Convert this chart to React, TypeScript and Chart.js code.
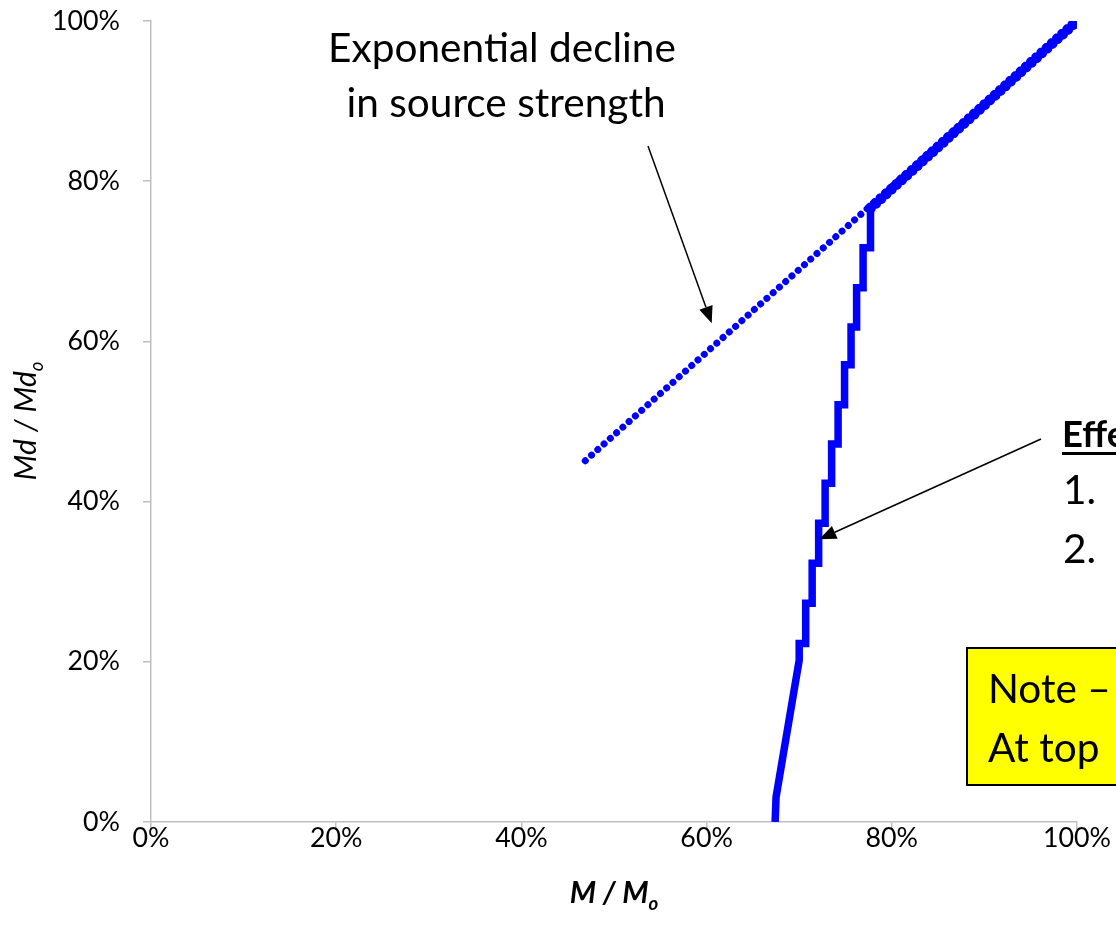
import React, { useEffect, useRef } from "react";
import { Chart, registerables } from "chart.js";

Chart.register(...registerables);

// ---- data ----
const xTickValues = [0, 20, 40, 60, 80, 100];
const yTickValues = [0, 20, 40, 60, 80, 100];
const tickLabels = ["0%", "20%", "40%", "60%", "80%", "100%"];

// Exponential decline in source strength (round-dot line), M/Mo (%) vs Md/Mdo (%)
const declineX = [46.9, 100];
const declineY = [45.1, 100];

// Stepped series (solid line), M/Mo (%)
const stepX = [
  67.4, 67.5, 70.0, 70.0, 70.7, 70.7, 71.4, 71.4, 72.1, 72.1, 72.8, 72.8, 73.5,
  73.5, 74.2, 74.2, 74.9, 74.9, 75.6, 75.6, 76.2, 76.2, 76.9, 76.9, 77.7, 77.7,
];
// Stepped series, Md/Mdo (%)
const stepY = [
  0, 3.1, 20.2, 22.3, 22.3, 27.3, 27.3, 32.3, 32.3, 37.3, 37.3, 42.3, 42.3,
  47.2, 47.2, 52.1, 52.1, 57.1, 57.1, 61.8, 61.8, 66.7, 66.7, 71.7, 71.7, 76.65,
];
// Upper part of the stepped series, drawn with markers
const upperX = [77.7, 100];
const upperY = [76.65, 100];

const FONT = "Lato";
const BLUE = "#0000FF";
const AXIS_GRAY = "#BFBFBF";

function fitSize(text: string, targetW: number, weight = "normal", style = "normal") {
  const c = document.createElement("canvas").getContext("2d")!;
  c.font = `${style} ${weight} 100px ${FONT}`;
  return (100 * targetW) / c.measureText(text).width;
}

function drawArrow(ctx: CanvasRenderingContext2D, x1: number, y1: number, x2: number, y2: number) {
  const ang = Math.atan2(y2 - y1, x2 - x1);
  const len = 17;
  const hw = 7;
  const bx = x2 - len * Math.cos(ang);
  const by = y2 - len * Math.sin(ang);
  ctx.strokeStyle = "#000";
  ctx.lineWidth = 1.5;
  ctx.beginPath();
  ctx.moveTo(x1, y1);
  ctx.lineTo(bx, by);
  ctx.stroke();
  ctx.fillStyle = "#000";
  ctx.beginPath();
  ctx.moveTo(x2, y2);
  ctx.lineTo(bx + hw * Math.sin(ang), by - hw * Math.cos(ang));
  ctx.lineTo(bx - hw * Math.sin(ang), by + hw * Math.cos(ang));
  ctx.closePath();
  ctx.fill();
}

function drawSubTitle(
  ctx: CanvasRenderingContext2D,
  main: string,
  sub: string,
  size: number,
  weight: string,
  cx: number,
  baseline: number
) {
  const mainFont = `italic ${weight} ${size}px ${FONT}`;
  const subFont = `italic ${weight} ${size * 0.62}px ${FONT}`;
  ctx.font = mainFont;
  const w1 = ctx.measureText(main).width;
  ctx.font = subFont;
  const w2 = ctx.measureText(sub).width;
  const x0 = cx - (w1 + w2) / 2;
  ctx.textAlign = "left";
  ctx.textBaseline = "alphabetic";
  ctx.font = mainFont;
  ctx.fillText(main, x0, baseline);
  ctx.font = subFont;
  ctx.fillText(sub, x0 + w1, baseline + size * 0.22);
}

export default function App() {
  const ref = useRef<HTMLCanvasElement | null>(null);

  useEffect(() => {
    document.body.style.margin = "0";
    const canvas = ref.current!;
    const tickSize = fitSize("100%", 68);
    const noteSize = fitSize("Exponential decline", 348);

    const annotations = {
      id: "annotations",
      afterDraw(chart: any) {
        const ctx: CanvasRenderingContext2D = chart.ctx;
        ctx.save();
        ctx.fillStyle = "#000";

        // axis titles
        drawSubTitle(ctx, "M / M", "o", 30, "bold", 614, 903);
        ctx.save();
        ctx.translate(36, 421);
        ctx.rotate(-Math.PI / 2);
        drawSubTitle(ctx, "Md / Md", "o", 30, "normal", 0, 0);
        ctx.restore();

        // "Exponential decline in source strength"
        ctx.fillStyle = "#000";
        ctx.textAlign = "center";
        ctx.textBaseline = "alphabetic";
        ctx.font = `${noteSize}px ${FONT}`;
        ctx.fillText("Exponential decline", 502, 62);
        ctx.fillText("in source strength", 506, 117);

        drawArrow(ctx, 648, 146, 711.7, 323.3);
        drawArrow(ctx, 1041, 439, 819.3, 539.3);

        // right-hand text (cut by the picture edge)
        ctx.textAlign = "left";
        ctx.fillStyle = "#000";
        ctx.font = `bold ${noteSize * 0.9}px ${FONT}`;
        ctx.fillText("Effe", 1062, 447);
        const ew = ctx.measureText("Effe").width;
        ctx.fillRect(1062, 452, ew, 3);
        ctx.font = `${noteSize}px ${FONT}`;
        ctx.fillText("1.", 1063, 504);
        ctx.fillText("2.", 1063, 563);

        // yellow note box
        ctx.fillStyle = "#FFFF00";
        ctx.fillRect(967, 648, 200, 137);
        ctx.strokeStyle = "#000";
        ctx.lineWidth = 2;
        ctx.strokeRect(967, 648, 200, 137);
        ctx.fillStyle = "#000";
        ctx.font = `${noteSize}px ${FONT}`;
        ctx.fillText("Note –", 988, 703);
        ctx.fillText("At top", 988, 762);

        ctx.restore();
      },
    };

    const chart = new Chart(canvas, {
      type: "scatter",
      data: {
        datasets: [
          {
            label: "upper",
            data: upperX.map((x, i) => ({ x, y: upperY[i] })),
            showLine: true,
            borderColor: BLUE,
            borderWidth: 11,
            borderDash: [0.001, 7],
            borderCapStyle: "round",
            pointRadius: 0,
          },
          {
            label: "step",
            data: stepX.map((x, i) => ({ x, y: stepY[i] })),
            showLine: true,
            borderColor: BLUE,
            borderWidth: 7.5,
            borderJoinStyle: "miter",
            borderCapStyle: "butt",
            pointRadius: 0,
          },
          {
            label: "decline",
            data: declineX.map((x, i) => ({ x, y: declineY[i] })),
            showLine: true,
            borderColor: BLUE,
            borderWidth: 7,
            borderDash: [0.001, 8.4],
            borderCapStyle: "round",
            pointRadius: 0,
          },
        ],
      },
      options: {
        responsive: false,
        animation: false,
        devicePixelRatio: 1,
        layout: { padding: { left: 0, top: 21, right: 39, bottom: 0 } },
        plugins: { legend: { display: false }, tooltip: { enabled: false } },
        scales: {
          x: {
            type: "linear",
            min: 0,
            max: 100,
            afterBuildTicks: (s: any) => {
              s.ticks = xTickValues.map((v) => ({ value: v }));
            },
            afterFit: (s: any) => {
              s.height = 107;
              s.paddingLeft = 0;
              s.paddingRight = 0;
            },
            ticks: {
              callback: (_v: any, i: number) => tickLabels[i],
              font: { family: FONT, size: tickSize },
              color: "#000",
              padding: -8,
              maxRotation: 0,
            },
            grid: {
              drawOnChartArea: false,
              drawTicks: true,
              tickLength: 8,
              color: AXIS_GRAY,
              lineWidth: 1.5,
            },
            border: { color: AXIS_GRAY, width: 1.5 },
          },
          y: {
            type: "linear",
            min: 0,
            max: 100,
            afterBuildTicks: (s: any) => {
              s.ticks = yTickValues.map((v) => ({ value: v }));
            },
            afterFit: (s: any) => {
              s.width = 151;
              s.paddingTop = 0;
              s.paddingBottom = 0;
            },
            ticks: {
              callback: (_v: any, i: number) => tickLabels[i],
              font: { family: FONT, size: tickSize },
              color: "#000",
              padding: 23,
            },
            grid: {
              drawOnChartArea: false,
              drawTicks: true,
              tickLength: 8,
              color: AXIS_GRAY,
              lineWidth: 1.5,
            },
            border: { color: AXIS_GRAY, width: 1.5 },
          },
        },
      },
      plugins: [annotations],
    } as any);

    return () => chart.destroy();
  }, []);

  return (
    <div style={{ position: "relative", width: 1116, height: 929, background: "#fff" }}>
      <canvas ref={ref} width={1116} height={929} style={{ width: 1116, height: 929, display: "block" }} />
    </div>
  );
}
